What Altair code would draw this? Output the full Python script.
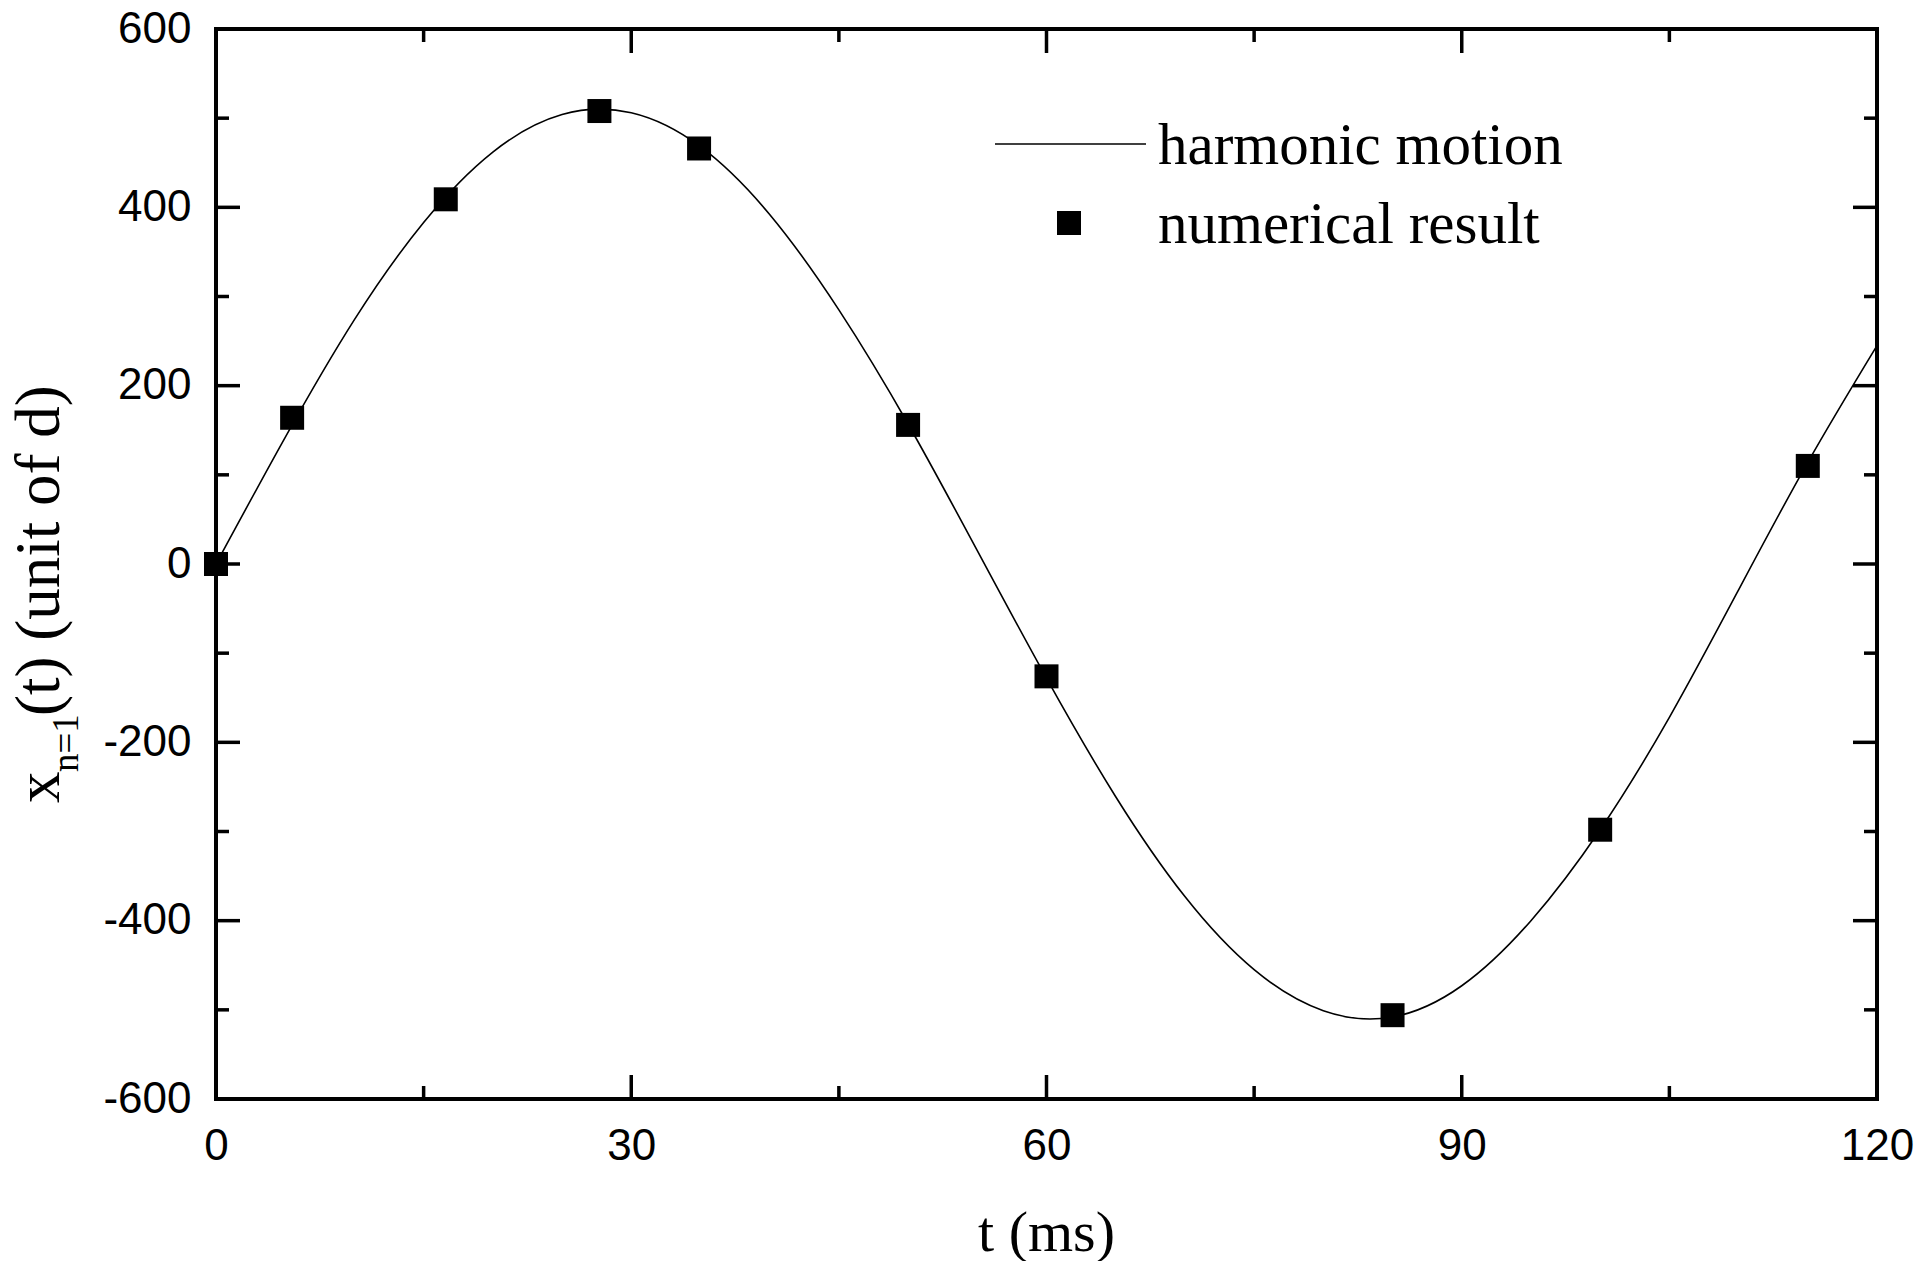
import altair as alt
import pandas as pd

# ---- data ----
T_CURVE = [0, 5, 10, 15, 20, 25, 30, 35, 40, 45, 50, 55, 60,
           65, 70, 75, 80, 85, 90, 95, 100, 105, 110, 115, 120]
X_CURVE = [0, 142, 274, 383, 462, 504, 506, 468, 392, 285, 157, 15, -128,
           -261, -373, -455, -501, -508, -473, -400, -298, -172, -29, 114, 245]

T_NUM = [0, 5.5, 16.6, 27.7, 34.9, 50.0, 60.0, 85.0, 100.0, 115.0]
X_NUM = [0, 164, 409, 508, 466, 156, -126, -506, -298, 110]

X_MAJOR = [0, 30, 60, 90, 120]
X_MINOR = [15, 45, 75, 105]
Y_MAJOR = [-600, -400, -200, 0, 200, 400, 600]
Y_MINOR = [-500, -300, -100, 100, 300, 500]

LEGEND_LABELS = ["harmonic motion", "numerical result"]
X_TITLE = "t (ms)"
Y_TITLE_PARTS = ["x", "n=1", "(t) (unit of d)"]

W, H = 1661, 1070
SANS = "Liberation Sans"
SERIF = "Liberation Serif"

xs = alt.Scale(domain=[0, 120], nice=False, zero=False)
ys = alt.Scale(domain=[-600, 600], nice=False, zero=False)

X_AXIS = alt.Axis(values=X_MAJOR, labelFont=SANS, labelFontSize=44,
                  labelColor="black", labelPadding=25, ticks=False,
                  tickSize=0, domain=False, grid=False, labelFlush=False,
                  labelOverlap=False, labelExpr="datum.value + ''")
Y_AXIS = alt.Axis(values=Y_MAJOR, labelFont=SANS, labelFontSize=44,
                  labelColor="black", labelPadding=25, ticks=False,
                  tickSize=0, domain=False, grid=False, labelFlush=False,
                  labelOverlap=False, labelExpr="datum.value + ''")


def X(field="t"):
    return alt.X(f"{field}:Q", scale=xs, title=None, axis=X_AXIS)


def Y(field="x"):
    return alt.Y(f"{field}:Q", scale=ys, title=None, axis=Y_AXIS)


curve_df = pd.DataFrame({"t": T_CURVE, "x": X_CURVE})
num_df = pd.DataFrame({"t": T_NUM, "x": X_NUM})

curve = alt.Chart(curve_df).mark_line(
    color="black", strokeWidth=1.6, interpolate="natural"
).encode(x=X(), y=Y())

points = alt.Chart(num_df).mark_point(
    shape="square", size=576, filled=True, color="black", opacity=1, strokeWidth=0
).encode(x=X(), y=Y())


def xticks(vals, length):
    df = pd.DataFrame({"t": vals})
    bottom = alt.Chart(df).mark_rule(color="black", strokeWidth=3.5).encode(
        x=X(), y=alt.value(H), y2=alt.value(H - length))
    top = alt.Chart(df).mark_rule(color="black", strokeWidth=3.5).encode(
        x=X(), y=alt.value(0), y2=alt.value(length))
    return [bottom, top]


def yticks(vals, length):
    df = pd.DataFrame({"x": vals})
    left = alt.Chart(df).mark_rule(color="black", strokeWidth=3.5).encode(
        y=Y(), x=alt.value(0), x2=alt.value(length))
    right = alt.Chart(df).mark_rule(color="black", strokeWidth=3.5).encode(
        y=Y(), x=alt.value(W), x2=alt.value(W - length))
    return [left, right]


tick_layers = (xticks(X_MAJOR, 24) + xticks(X_MINOR, 13)
               + yticks(Y_MAJOR, 24) + yticks(Y_MINOR, 13))


def text_layer(s, x, y, size, font=SERIF, angle=0, align="left"):
    df = pd.DataFrame({"label": [s]})
    kw = dict(font=font, fontSize=size, color="black", align=align,
              baseline="alphabetic")
    if angle:
        kw["angle"] = angle
    return alt.Chart(df).mark_text(**kw).encode(
        text="label:N", x=alt.value(x), y=alt.value(y))


# y-axis title with subscript (rotated)
ytitle = [
    text_layer(Y_TITLE_PARTS[0], -157, 774, 63, angle=270),
    text_layer(Y_TITLE_PARTS[1], -138, 743, 37, angle=270),
    text_layer(Y_TITLE_PARTS[2], -157, 687, 63, angle=270),
]
xtitle = text_layer(X_TITLE, W / 2, 1222, 58, align="center")

# legend
leg_line = alt.Chart(pd.DataFrame({"k": [LEGEND_LABELS[0]]})).mark_rule(
    color="black", strokeWidth=1.6
).encode(x=alt.value(779), x2=alt.value(930), y=alt.value(115))
leg_sq = alt.Chart(pd.DataFrame({"k": [LEGEND_LABELS[1]]})).mark_point(
    shape="square", size=576, filled=True, color="black", opacity=1, strokeWidth=0
).encode(x=alt.value(853), y=alt.value(194))
leg_t1 = text_layer(LEGEND_LABELS[0], 942, 135, 59)
leg_t2 = text_layer(LEGEND_LABELS[1], 942, 214, 59)

chart = alt.layer(
    curve, points, *tick_layers, *ytitle, xtitle, leg_line, leg_sq, leg_t1, leg_t2
).properties(
    width=W, height=H,
    autosize=alt.AutoSizeParams(type="none"),
    padding={"left": 208, "top": 21, "right": 40, "bottom": 162},
    background="white",
).configure_view(
    stroke="black", strokeWidth=4
)

chart.save("out.html", embed_options={"renderer": "svg", "actions": False})
